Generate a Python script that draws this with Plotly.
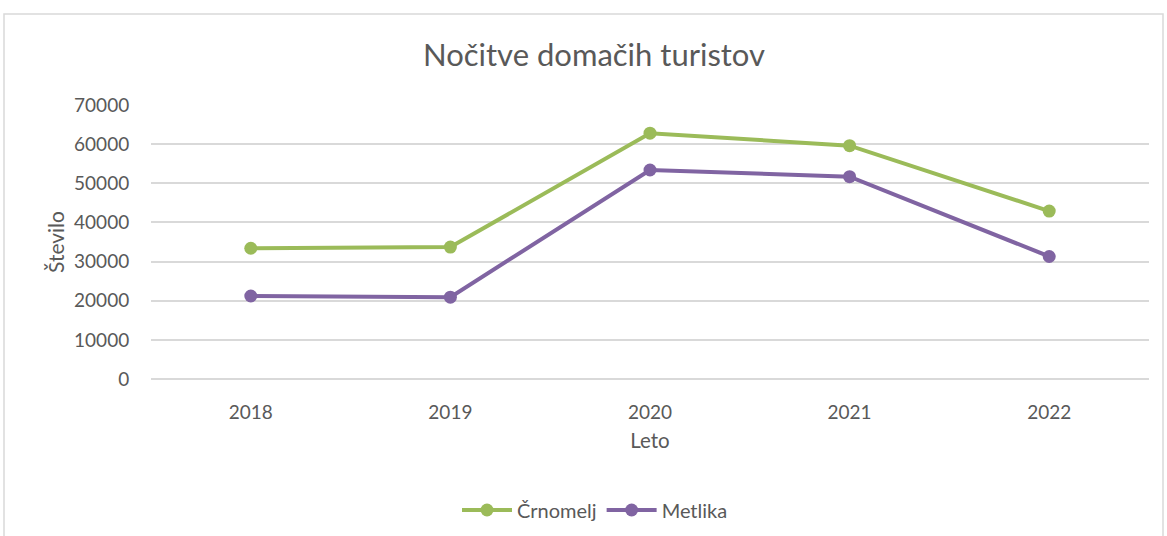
import plotly.graph_objects as go

years = ["2018", "2019", "2020", "2021", "2022"]
crnomelj = [33400, 33700, 62800, 59600, 42900]
metlika = [21200, 20900, 53400, 51700, 31300]
y_ticks = [0, 10000, 20000, 30000, 40000, 50000, 60000, 70000]

W, H = 1167, 536
L, R, T, B = 151, 18, 105, 157
pw, ph = W - L - R, H - T - B

fig = go.Figure()
fig.add_trace(go.Scatter(x=years, y=crnomelj, name="Črnomelj", mode="lines+markers",
                         line=dict(color="#9BBB59", width=4), marker=dict(size=13, color="#9BBB59")))
fig.add_trace(go.Scatter(x=years, y=metlika, name="Metlika", mode="lines+markers",
                         line=dict(color="#8064A2", width=4), marker=dict(size=13, color="#8064A2")))

font = "Lato, 'Open Sans', sans-serif"
fig.update_layout(
    width=W, height=H,
    margin=dict(l=L, r=R, t=T, b=B, autoexpand=False),
    paper_bgcolor="white", plot_bgcolor="white",
    font=dict(family=font, color="#595959", size=19),
    title=dict(text="Nočitve domačih turistov", x=594 / W, xanchor="center",
               y=1 - 55 / H, yanchor="middle", font=dict(size=31, color="#595959", family=font)),
    xaxis=dict(title=dict(text="Leto", font=dict(size=20.5), standoff=11), showgrid=False,
               showline=False, ticks="outside", ticklen=16, tickcolor="rgba(0,0,0,0)",
               tickfont=dict(size=19), range=[-0.5, 4.5], automargin=True),
    yaxis=dict(title=dict(text="Število", font=dict(size=21), standoff=3), range=[0, 70000],
               tickvals=y_ticks, ticktext=[str(v) for v in y_ticks], showgrid=True,
               gridcolor="#D9D9D9", gridwidth=1.5, zeroline=True, zerolinecolor="#D9D9D9",
               zerolinewidth=1.5, ticks="outside", ticklen=17, tickcolor="rgba(0,0,0,0)",
               tickfont=dict(size=19), automargin=True),
    legend=dict(orientation="h", x=(595 - L) / pw, xanchor="center", y=-(510 - (T + ph)) / ph,
                yanchor="middle", font=dict(size=20), itemwidth=50),
    showlegend=True,
)
fig.add_shape(type="rect", xref="paper", yref="paper",
              x0=(4 - L) / pw, x1=(1163 - L) / pw, y0=-(540 - T - ph) / ph, y1=1 + (T - 14) / ph,
              line=dict(color="#D9D9D9", width=1.5), fillcolor="rgba(0,0,0,0)", layer="below")
fig.write_html("out.html")
